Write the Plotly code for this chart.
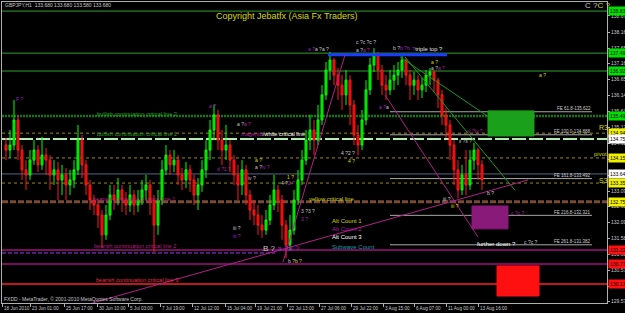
import plotly.graph_objects as go

# ---------------- data ----------------
bar_pos = list(range(6, 483, 4))  # bar columns along the time axis
close = [134.40,134.56,135.36,134.40,133.77,133.61,134.08,134.40,133.93,134.24,
         134.08,133.61,133.77,133.45,133.61,133.29,133.45,133.77,134.72,133.93,
         133.29,132.81,132.65,132.33,131.70,132.33,132.97,132.81,133.13,132.81,
         132.65,132.97,132.65,132.81,133.13,133.29,132.81,132.01,132.81,133.77,
         134.24,133.93,134.08,133.61,133.45,133.77,133.45,132.97,133.29,133.77,
         134.40,135.04,135.52,134.72,134.40,134.56,134.08,133.61,133.29,133.77,
         132.97,132.49,132.33,132.01,131.85,132.17,132.65,133.13,132.81,132.01,
         131.38,131.85,132.81,133.45,134.08,134.72,135.04,134.72,135.36,136.16,
         136.95,137.27,136.79,136.47,136.16,136.63,135.84,134.88,134.56,135.36,
         136.32,137.11,137.43,136.95,136.47,136.32,136.63,136.79,136.95,137.27,
         136.79,136.47,136.63,136.32,136.47,136.79,136.89,136.63,136.16,135.52,
         135.20,134.56,133.77,133.13,133.61,133.29,134.08,134.40,133.93,133.45]
high = [134.79,135.04,136.00,135.52,134.56,134.08,134.40,134.72,134.56,134.82,
        134.47,134.24,134.08,134.02,133.93,133.83,133.77,134.08,135.20,134.88,
        134.08,133.45,132.97,132.81,132.49,132.65,133.29,133.29,133.51,133.29,
        133.07,133.29,133.13,133.13,133.45,133.61,133.45,132.97,133.13,134.08,
        134.56,134.40,134.40,134.24,133.83,134.02,133.93,133.61,133.51,134.08,
        134.72,135.36,135.84,135.68,135.04,135.20,134.72,134.24,133.93,134.08,
        133.93,133.13,132.81,132.65,132.33,132.49,132.97,133.61,133.29,132.97,
        132.17,132.33,133.13,133.77,134.40,135.04,135.52,135.36,135.84,136.47,
        137.21,137.53,137.34,137.02,136.79,136.95,136.79,136.00,135.20,135.68,
        136.63,137.34,137.65,137.53,137.11,136.79,136.95,137.11,137.21,137.43,
        137.34,136.95,136.89,136.79,136.70,136.95,137.02,136.95,136.70,136.32,
        135.74,135.36,134.72,134.08,133.93,134.40,134.40,134.63,134.47,134.08]
low = [134.08,134.15,134.40,134.08,133.45,133.13,133.45,133.93,133.70,133.77,
       133.61,133.13,133.29,132.81,132.97,132.81,132.97,133.19,133.61,133.51,
       132.97,132.49,132.33,131.92,131.28,131.54,132.17,132.49,132.65,132.43,
       132.33,132.43,132.33,132.43,132.65,132.81,132.33,131.15,131.70,132.65,
       133.61,133.61,133.70,133.29,133.13,133.19,133.07,132.65,132.49,133.07,
       133.51,134.08,134.72,134.40,133.93,134.08,133.70,133.29,132.81,132.97,
       132.65,132.17,132.01,131.70,131.60,131.70,132.01,132.49,132.43,131.54,
       130.96,131.22,131.70,132.65,133.29,133.93,134.40,134.24,134.56,135.20,
       136.00,136.63,136.47,136.00,135.68,135.84,135.20,134.56,134.24,134.40,
       135.20,136.16,136.89,136.63,136.16,136.00,136.16,136.32,136.47,136.70,
       136.47,136.00,136.16,136.00,136.06,136.25,136.47,136.25,135.74,135.20,
       134.79,134.08,133.29,132.87,132.97,132.97,133.13,133.77,133.45,133.13]
first_open = 134.56
open_ = [first_open] + close[:-1]

time_tick_pos = [2, 30, 64, 97, 128, 160, 192, 225, 255, 287, 319, 351, 383, 414, 446, 478]
time_tick_text = ["18 Jun 2010", "23 Jun 01:00", "25 Jun 17:00", "30 Jun 10:00", "5 Jul 03:00",
                  "7 Jul 19:00", "12 Jul 12:00", "15 Jul 04:00", "19 Jul 21:00", "22 Jul 13:00",
                  "27 Jul 06:00", "29 Jul 22:00", "3 Aug 15:00", "6 Aug 07:00", "11 Aug 00:00",
                  "13 Aug 16:00"]
price_ticks = [138.674, 138.160, 137.650, 137.160, 136.650, 136.140, 135.630, 135.120, 134.620,
               134.110, 133.600, 133.090, 132.600, 132.090, 131.580, 131.080, 130.570, 130.060, 129.570]

# horizontal levels
level_price = [138.83, 137.49, 136.92, 135.49, 134.94, 134.75, 134.15, 133.64, 133.35, 132.75,
               131.22, 130.77, 130.13]
level_color = ["#2ea02e", "#2ea02e", "#2ea02e", "#137a13", "#9a8a1a", "#b0eeb0", "#9a8a1a",
               "#56688c", "#9a8a1a", "#7a4a36", "#a0107e", "#a0107e", "#ff2020"]
level_width = [1, 1, 1, 2.5, 1, 2, 1, 1, 1, 3, 1.5, 1.5, 1.5]
level_dash = ["solid", "solid", "solid", "2px,1px", "3px,3px", "14px,3px", "3px,3px", "solid",
              "3px,3px", "6px,2px", "solid", "solid", "solid"]
axis_box_text = ["138.834", "137.495", "136.922", "135.494", "134.942", "134.756", "134.151",
                 "133.641", "133.352", "132.752", "131.222", "130.774", "130.133"]
axis_box_color = ["#00e000", "#00e000", "#00e000", "#00e000", "#f0f000", "#ffffff", "#f0f000",
                  "#ffffff", "#f0f000", "#f0f000", "#ff1010", "#ff1010", "#ff1010"]

# Fibonacci extension levels
fe_price = [135.622, 134.888, 133.492, 132.321, 131.382]
fe_text = ["FE 61.8-135.622", "FE 100.0-134.888", "FE 161.8-133.492", "FE 216.8-132.321",
           "FE 261.8-131.382"]
fe_x0, fe_x1 = 390, 592

# zones (x0, x1, p_low, p_high, color)
zones = [(488, 534, 134.85, 135.65, "#1aa01a"),
         (472, 508, 131.89, 132.62, "#8a1a7a"),
         (497, 539, 129.75, 130.71, "#ff1010")]

# trend lines (x0, p0, x1, p1, color)
trend = [(405, 137.37, 515, 133.12, "#1c9a1c"),
         (400, 137.37, 490, 135.43, "#1c9a1c"),
         (85, 129.46, 528, 133.45, "#b0208a"),
         (283, 130.83, 345, 137.43, "#b0208a"),
         (385, 136.16, 478, 131.63, "#b0208a")]

# ---------------- figure ----------------
W, H = 625, 313
L, R, T, B = 2, 18, 2, 10
PX0, PX1 = 2, 607
YMIN, YMAX = 129.527, 139.120

fig = go.Figure()
fig.add_trace(go.Candlestick(
    x=bar_pos, open=open_, high=high, low=low, close=close,
    increasing=dict(line=dict(color="#00ff00", width=1), fillcolor="#00d000"),
    decreasing=dict(line=dict(color="#ff1a1a", width=1), fillcolor="#e00000"),
    whiskerwidth=0, showlegend=False, hoverinfo="skip"))

shapes = []
for p, c, w, d in zip(level_price, level_color, level_width, level_dash):
    shapes.append(dict(type="line", xref="x", yref="y", x0=PX0, x1=PX1, y0=p, y1=p,
                       line=dict(color=c, width=w, dash=d), layer="below"))
# short dashed level
shapes.append(dict(type="line", xref="x", yref="y", x0=PX0, x1=275, y0=131.12, y1=131.12,
                   line=dict(color="#6a2aa0", width=1.5, dash="4px,2px"), layer="below"))
# blue triple-top line
shapes.append(dict(type="line", xref="x", yref="y", x0=328, x1=447, y0=137.44, y1=137.44,
                   line=dict(color="#1a3cff", width=3)))
for p in fe_price:
    shapes.append(dict(type="line", xref="x", yref="y", x0=fe_x0, x1=fe_x1, y0=p, y1=p,
                       line=dict(color="#a8a8a8", width=1), layer="below"))
for x0, x1, p0, p1, c in zones:
    shapes.append(dict(type="rect", xref="x", yref="y", x0=x0, x1=x1, y0=p0, y1=p1,
                       fillcolor=c, line=dict(color=c, width=1), layer="below"))
for x0, p0, x1, p1, c in trend:
    shapes.append(dict(type="line", xref="x", yref="y", x0=x0, x1=x1, y0=p0, y1=p1,
                       line=dict(color=c, width=1)))


def px(x):
    return (x - L) / (W - L - R)


def py(y):
    return (H - B - y) / (H - T - B)


ann = []


def txt(x, y, t, color, size, anchor="left", bg=None):
    d = dict(xref="paper", yref="paper", x=px(x), y=py(y), text=t, showarrow=False,
             xanchor=anchor, yanchor="middle",
             font=dict(family="Liberation Sans, Arial", size=size, color=color),
             borderpad=0)
    if bg:
        d["bgcolor"] = bg
    ann.append(d)


def sp(t, c):
    return f'<span style="color:{c}">{t}</span>'


GR = "#c8c8c8"; YE = "#d8d800"; MG = "#b020a0"; PU = "#a020c0"

txt(4, 5, "GBPJPY,H1  133.680 133.680 133.580 133.680", GR, 5)
txt(215, 16, "Copyright Jebatfx (Asia Fx Traders)", YE, 9)
txt(584, 6, sp("C ?", GR) + sp("C ?", YE), GR, 8)
txt(96, 114, "bullish continuation critical line 2", "#2aa02a", 5.6)
txt(96, 134, "bullish continuation critical line 1", "#2aa02a", 5.6)
txt(240, 134, sp("magenta", MG) + "/white critical line", "#ffffff", 5.6)
txt(308, 199, "yellow critical line", YE, 5.8)
txt(92, 199, "bearish continuation critical line 1", "#b0207e", 5.6)
txt(93, 246, "bearish continuation critical line 2", "#b0207e", 5.6)
txt(95, 280, "bearish continuation critical line 3", "#e0304a", 5.6)
txt(331, 221, "Alt Count 1", YE, 6)
txt(331, 229, "Alt Count 2", MG, 6)
txt(331, 237, "Alt Count 3", "#ffffff", 6)
txt(331, 247, "Subwave Count", "#00a8a8", 6)
txt(476, 244, "further down ?", "#ffffff", 6)
txt(411, 49, sp("?", PU) + "triple top ?", "#e0e0e0", 5.8)
txt(598, 128, "R3", YE, 7)
txt(593, 154, "pivot", YE, 6)
txt(598, 180, "S3", YE, 7)
for p, t in zip(fe_price, fe_text):
    ytxt = H - B - (p - YMIN) / (YMAX - YMIN) * (H - T - B) - 3
    txt(592, ytxt, t, "#d0d0d0", 4.5, anchor="right")
txt(3, 299, "FXDD - MetaTrader, © 2001-2010 MetaQuotes Software Corp.", GR, 5)

# time axis labels (left-aligned next to tick marks, as in the terminal)
for x, t in zip(time_tick_pos, time_tick_text):
    txt(x + 1, 308, t, GR, 4.6)

# wave labels
wave = [(15, 99, sp("F ?", PU)), (208, 106, sp("a ?", PU)),
        (236, 124, sp("a ?", GR) + sp("a ?", MG)), (254, 160, sp("a ?", YE)),
        (254, 167, sp("a ?", GR) + sp("iv ?", PU)), (216, 169, sp("d ?1 ?", MG)),
        (247, 178, sp("iv ?", GR)), (286, 177, sp("1 ?", YE)),
        (280, 183, sp("4 ?", GR) + sp("2 ?", PU)), (340, 153, sp("4 ?2 ?", GR)),
        (347, 161, sp("4 ?", YE)), (307, 49, sp("a ?", PU) + sp("a ?a ?", GR)),
        (355, 42, sp("c ?c ?c ?", GR)), (355, 50, sp("a ?", GR) + sp("a ?", MG)),
        (392, 48, sp("b ?", GR) + sp("b ?b", PU)), (430, 62, sp("a ?", YE)),
        (430, 68, sp("a ?", GR) + sp("a ?", PU)), (538, 75, sp("a ?", YE)),
        (378, 107, sp("a ?", PU) + sp("a", GR)), (232, 228, sp("iii ?", GR)),
        (232, 236, sp("iii ?", PU)), (300, 211, sp("3 ?3 ?", GR)), (300, 219, sp("3 ?", PU)),
        (287, 261, sp("b ?", GR) + sp("b ?", YE)), (466, 131, sp("iv ?iv ?", MG)),
        (458, 141, sp("ii ?ii ?", GR)), (486, 193, sp("b ?", GR)), (442, 199, sp("iii ?", GR)),
        (450, 206, sp("iii ?", YE)), (510, 213, sp("c ?c ?", MG)), (523, 242, sp("c ?c ?", GR))]
for x, y, t in wave:
    txt(x, y, t, GR, 5)
txt(262, 248, sp("B ?", GR) + sp(" a ?a ?", PU), GR, 8)

# axis price boxes
for p, t, c in zip(level_price, axis_box_text, axis_box_color):
    ytxt = H - B - (p - YMIN) / (YMAX - YMIN) * (H - T - B)
    ann.append(dict(xref="paper", yref="paper", x=1.0, y=py(ytxt), text=t, showarrow=False,
                    xanchor="left", yanchor="middle", xshift=1,
                    font=dict(family="Liberation Sans, Arial", size=5, color="#000000"),
                    bgcolor=c, borderpad=1))

fig.update_layout(
    width=W, height=H, autosize=False,
    margin=dict(l=L, r=R, t=T, b=B, pad=0),
    paper_bgcolor="#000000", plot_bgcolor="#000000",
    shapes=shapes, annotations=ann, showlegend=False,
    xaxis=dict(range=[PX0, PX1], rangeslider=dict(visible=False), showgrid=False,
               zeroline=False, showline=True, linecolor="#b0b0b0", linewidth=1, mirror=True,
               tickmode="array", tickvals=time_tick_pos, showticklabels=False,
               ticks="outside", ticklen=3, tickcolor="#b0b0b0",
               automargin=False, fixedrange=True),
    yaxis=dict(range=[YMIN, YMAX], side="right", showgrid=False, zeroline=False,
               showline=True, linecolor="#b0b0b0", linewidth=1, mirror=True,
               tickmode="array", tickvals=price_ticks,
               ticktext=[f"{v:.3f}" for v in price_ticks],
               ticks="outside", ticklen=2, tickcolor="#b0b0b0",
               tickfont=dict(family="Liberation Sans, Arial", size=5, color="#c8c8c8"),
               automargin=False, fixedrange=True),
)

fig.write_html("out.html", config=dict(displayModeBar=False))
